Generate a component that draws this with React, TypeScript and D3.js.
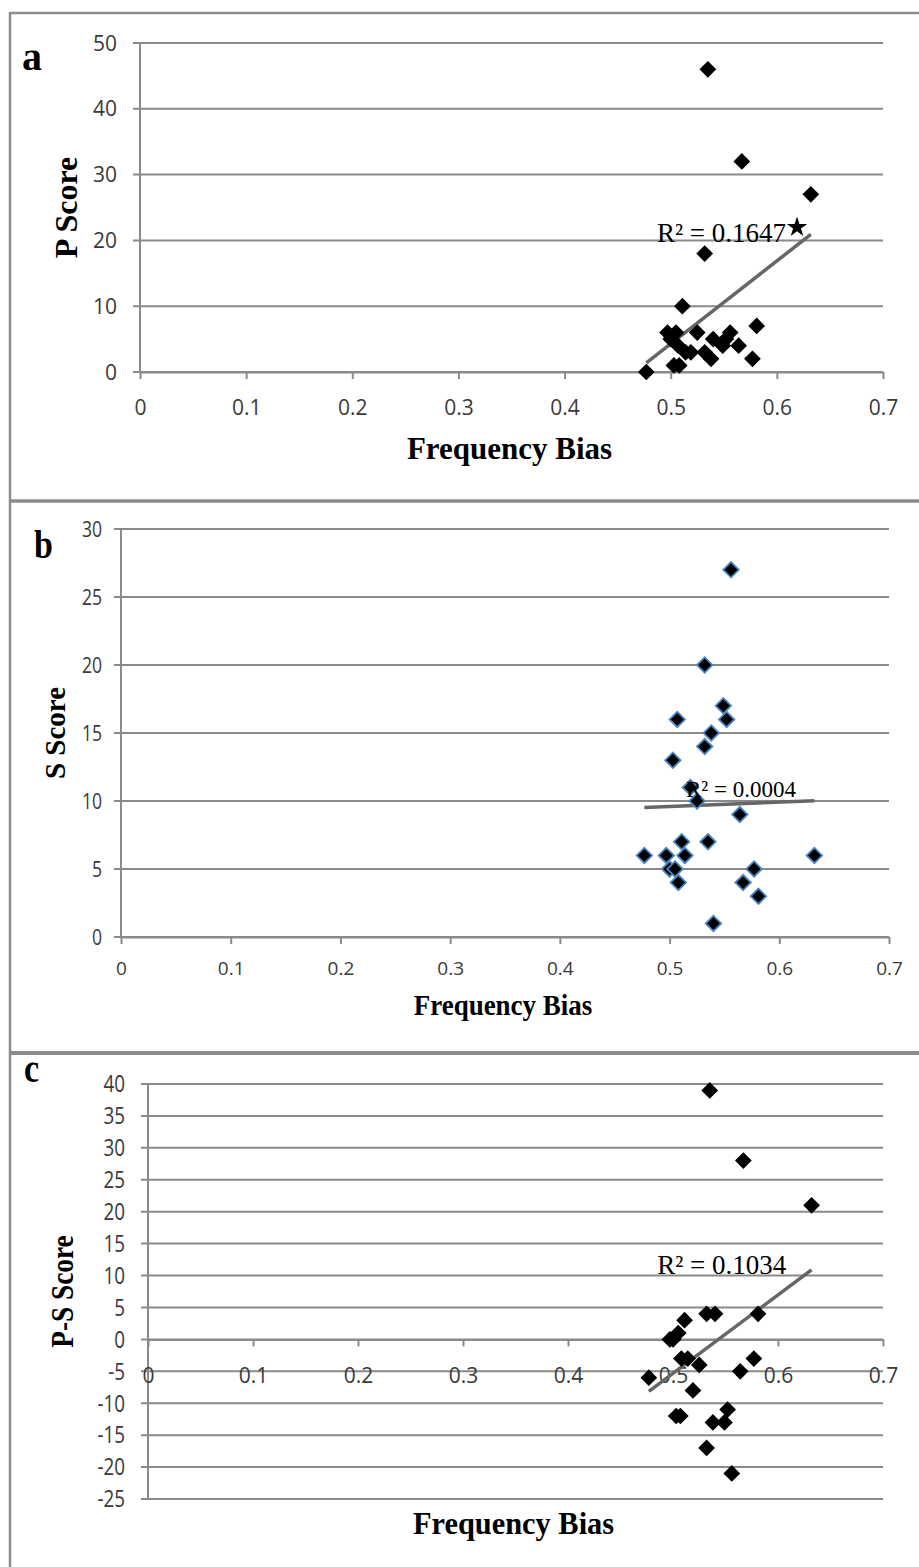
import React, { useEffect, useRef } from "react";
import * as d3 from "d3";

// frequency bias per subject (shared by all three panels)
const freqBias = [0.477, 0.497, 0.5, 0.503, 0.505, 0.507, 0.508, 0.511, 0.514, 0.519, 0.525, 0.532,
  0.532, 0.535, 0.538, 0.54, 0.549, 0.552, 0.556, 0.564, 0.567, 0.577, 0.581, 0.632];
const pScore = [0, 6, 5, 1, 6, 4, 1, 10, 3, 3, 6, 3, 18, 46, 2, 5, 4, 5, 6, 4, 32, 2, 7, 27];
const sScore = [6, 6, 5, 13, 5, 16, 4, 7, 6, 11, 10, 20, 14, 7, 15, 1, 17, 16, 27, 9, 4, 5, 3, 6];
const psScore = [-6, 0, 0, -12, 1, -12, -3, 3, -3, -8, -4, -17, 4, 39, -13, 4, -13, -11, -21, -5, 28, -3, 4, 21];

const xTicks = [0, 0.1, 0.2, 0.3, 0.4, 0.5, 0.6, 0.7];
const pTicks = [0, 10, 20, 30, 40, 50];
const sTicks = [0, 5, 10, 15, 20, 25, 30];
const psTicks = [-25, -20, -15, -10, -5, 0, 5, 10, 15, 20, 25, 30, 35, 40];

const panelLetters = ["a", "b", "c"];
const yTitles = ["P Score", "S Score", "P-S Score"];
const xTitle = "Frequency Bias";
const r2Labels = ["R² = 0.1647", "R² = 0.0004", "R² = 0.1034"];
// significance star next to the panel a trend line
const starPoint = { fb: 0.619, value: 22 };

const GRID = "#8a8a8a";
const TICK_TEXT = "#3a3a3a";
const SERIF = "'Liberation Serif', 'Times New Roman', serif";
const SANS = "'Open Sans', 'Liberation Sans', sans-serif";

const layouts = [
  {
    values: pScore, ticks: pTicks, domain: [0, 50],
    left: 140, right: 883, top: 43, bottom: 372,
    tickFont: 21, yTickFont: 21, yTickScale: 1, xLabelOffset: 35, yLabelGap: 23,
    letter: { x: 22, y: 70, size: 40, sx: 1 },
    yTitle: { x: 77, size: 32, sx: 1 },
    xTitle: { y: 459, size: 31, sx: 1 },
    r2: { fb: 0.487, value: 19.8, size: 27 },
    outline: null as string | null,
  },
  {
    values: sScore, ticks: sTicks, domain: [0, 30],
    left: 121, right: 889, top: 529, bottom: 937,
    tickFont: 19, yTickFont: 22, yTickScale: 0.8, xLabelOffset: 31, yLabelGap: 19,
    letter: { x: 34, y: 558, size: 40, sx: 0.85 },
    yTitle: { x: 65, size: 29, sx: 1 },
    xTitle: { y: 1015, size: 30, sx: 0.9 },
    r2: { fb: 0.515, value: 10.3, size: 23 },
    outline: "#4a86c5",
  },
  {
    values: psScore, ticks: psTicks, domain: [-25, 40],
    left: 148, right: 883, top: 1084, bottom: 1499,
    tickFont: 21, yTickFont: 23, yTickScale: 0.82, xLabelOffset: 36, yLabelGap: 23,
    letter: { x: 24, y: 1082, size: 40, sx: 0.85 },
    yTitle: { x: 73, size: 31, sx: 0.88 },
    xTitle: { y: 1534, size: 32, sx: 0.95 },
    r2: { fb: 0.485, value: 10.3, size: 27 },
    outline: null as string | null,
  },
];

function linearFit(xs: number[], ys: number[]) {
  const mx = d3.mean(xs) as number;
  const my = d3.mean(ys) as number;
  let sxy = 0, sxx = 0;
  xs.forEach((x, i) => {
    sxy += (x - mx) * (ys[i] - my);
    sxx += (x - mx) * (x - mx);
  });
  const slope = sxy / sxx;
  return { slope, intercept: my - slope * mx };
}

function drawPanel(svg: d3.Selection<SVGSVGElement, unknown, null, undefined>, idx: number) {
  const L = layouts[idx];
  const x = d3.scaleLinear().domain([0, 0.7]).range([L.left, L.right]);
  const y = d3.scaleLinear().domain(L.domain).range([L.bottom, L.top]);
  const g = svg.append("g");
  const y0 = y(Math.max(0, L.domain[0]));

  // horizontal gridlines (they start at the tick mark)
  g.selectAll(".grid")
    .data(L.ticks)
    .enter()
    .append("line")
    .attr("x1", L.left - 7)
    .attr("x2", L.right)
    .attr("y1", d => y(d))
    .attr("y2", d => y(d))
    .attr("stroke", GRID)
    .attr("stroke-width", 2);

  // y axis line
  g.append("line")
    .attr("x1", L.left).attr("x2", L.left)
    .attr("y1", L.top).attr("y2", L.bottom)
    .attr("stroke", GRID).attr("stroke-width", 2);

  // x axis with tick marks
  const xAxis = d3.axisBottom(x).tickValues(xTicks).tickSize(7).tickSizeOuter(0)
    .tickFormat(d => String(d));
  const ax = g.append("g").attr("transform", `translate(0, ${y0})`).call(xAxis);
  ax.select(".domain").attr("stroke", GRID).attr("stroke-width", 2);
  ax.selectAll(".tick line").attr("stroke", GRID).attr("stroke-width", 2);
  ax.selectAll(".tick text")
    .attr("y", L.xLabelOffset)
    .attr("dy", "0.36em")
    .attr("fill", TICK_TEXT)
    .style("font-family", SANS)
    .style("font-size", `${L.tickFont}px`);

  // y tick labels
  g.selectAll(".ylab")
    .data(L.ticks)
    .enter()
    .append("text")
    .attr("transform", d => `translate(${L.left - L.yLabelGap}, ${y(d)}) scale(${L.yTickScale}, 1)`)
    .attr("text-anchor", "end")
    .attr("dy", "0.36em")
    .attr("fill", TICK_TEXT)
    .style("font-family", SANS)
    .style("font-size", `${L.yTickFont}px`)
    .text(d => String(d));

  // trend line
  const fit = linearFit(freqBias, L.values);
  const ext = d3.extent(freqBias) as [number, number];
  g.append("path")
    .attr("d", d3.line<number>().x(d => x(d)).y(d => y(fit.intercept + fit.slope * d))(ext))
    .attr("stroke", "#666666")
    .attr("stroke-width", 3.5)
    .attr("fill", "none");

  // diamond markers
  const diamond = d3.symbol().type(d3.symbolSquare).size(L.outline ? 120 : 140);
  g.selectAll(".pt")
    .data(L.values)
    .enter()
    .append("path")
    .attr("d", diamond() as string)
    .attr("transform", (d, i) => `translate(${x(freqBias[i])}, ${y(d)}) rotate(45)`)
    .attr("fill", "#000")
    .attr("stroke", L.outline || "none")
    .attr("stroke-width", L.outline ? 1.8 : 0);

  // R² label
  g.append("text")
    .attr("x", x(L.r2.fb))
    .attr("y", y(L.r2.value))
    .attr("fill", "#000")
    .style("font-family", SERIF)
    .style("font-size", `${L.r2.size}px`)
    .text(r2Labels[idx]);

  if (idx === 0) {
    g.append("path")
      .attr("d", d3.symbol().type(d3.symbolStar).size(130)() as string)
      .attr("transform", `translate(${x(starPoint.fb)}, ${y(starPoint.value)})`)
      .attr("fill", "#000");
  }

  // panel letter
  g.append("text")
    .attr("transform", `translate(${L.letter.x}, ${L.letter.y}) scale(${L.letter.sx}, 1)`)
    .style("font-family", SERIF)
    .style("font-weight", "bold")
    .style("font-size", `${L.letter.size}px`)
    .text(panelLetters[idx]);

  // y title
  g.append("text")
    .attr("transform", `translate(${L.yTitle.x}, ${(L.top + L.bottom) / 2}) rotate(-90) scale(${L.yTitle.sx}, 1)`)
    .attr("text-anchor", "middle")
    .style("font-family", SERIF)
    .style("font-weight", "bold")
    .style("font-size", `${L.yTitle.size}px`)
    .text(yTitles[idx]);

  // x title
  g.append("text")
    .attr("transform", `translate(${(L.left + L.right) / 2 - 2}, ${L.xTitle.y}) scale(${L.xTitle.sx}, 1)`)
    .attr("text-anchor", "middle")
    .style("font-family", SERIF)
    .style("font-weight", "bold")
    .style("font-size", `${L.xTitle.size}px`)
    .text(xTitle);
}

export default function App() {
  const ref = useRef<SVGSVGElement>(null);

  useEffect(() => {
    const svg = d3.select(ref.current as SVGSVGElement);
    svg.selectAll("*").remove();

    svg.append("rect").attr("width", 919).attr("height", 1567).attr("fill", "#fff");

    // panel frames
    const frame = svg.append("g").attr("stroke", "#8c8c8c").attr("fill", "none");
    frame.append("line").attr("x1", 10).attr("x2", 919).attr("y1", 13).attr("y2", 13).attr("stroke-width", 2.5);
    frame.append("line").attr("x1", 10).attr("x2", 10).attr("y1", 12).attr("y2", 1567).attr("stroke-width", 2.5);
    frame.append("line").attr("x1", 10).attr("x2", 919).attr("y1", 501).attr("y2", 501).attr("stroke-width", 3.5);
    frame.append("line").attr("x1", 10).attr("x2", 919).attr("y1", 1053).attr("y2", 1053).attr("stroke-width", 4);

    layouts.forEach((_, i) => drawPanel(svg, i));
  }, []);

  return (
    <svg
      ref={ref}
      width={919}
      height={1567}
      style={{ position: "absolute", left: 0, top: 0, display: "block" }}
    />
  );
}
